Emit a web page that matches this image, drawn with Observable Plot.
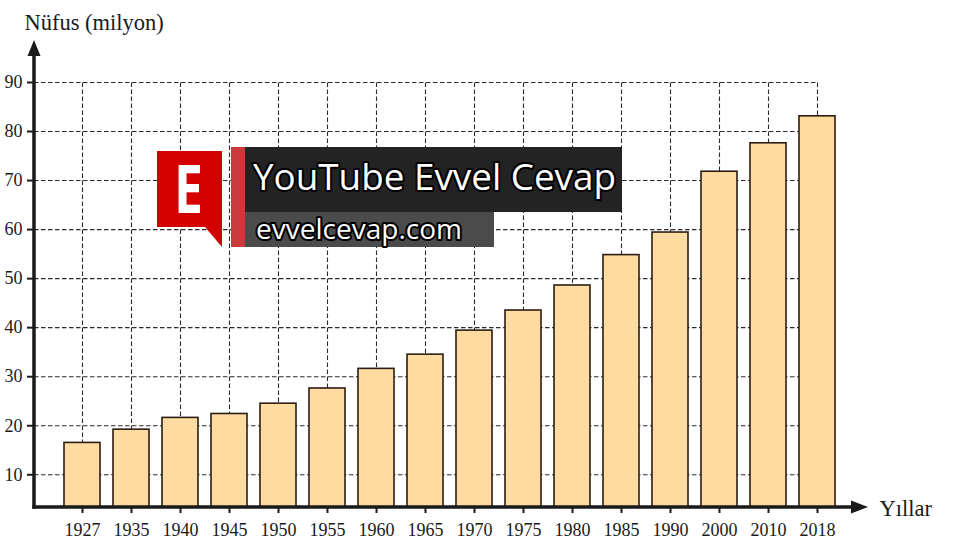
<!DOCTYPE html>
<html>
<head>
<meta charset="utf-8">
<script src="https://cdn.jsdelivr.net/npm/d3@7"></script>
<script src="https://cdn.jsdelivr.net/npm/@observablehq/plot@0.6"></script>
<style>
  html, body { margin: 0; padding: 0; background: #fff; }
  #chart svg { display: block; }
</style>
</head>
<body>
<div id="chart"></div>
<script>
// ---- data ----
const years = ["1927", "1935", "1940", "1945", "1950", "1955", "1960", "1965",
               "1970", "1975", "1980", "1985", "1990", "2000", "2010", "2018"];
const population = [16.5, 19.2, 21.6, 22.4, 24.5, 27.6, 31.6, 34.5,
                    39.4, 43.5, 48.6, 54.8, 59.4, 71.8, 77.6, 83.1];
const yTicks = [10, 20, 30, 40, 50, 60, 70, 80, 90];
const yTitle = "Nüfus (milyon)";
const xTitle = "Yıllar";
const brandTitle = "YouTube Evvel Cevap";
const brandUrl = "evvelcevap.com";
const brandLetter = "E";

const rows = years.map((year, i) => ({year, population: population[i]}));

// ---- styling constants ----
const INK = "#1a1a1a";
const GRID = "#2a2a2a";
const BAR_FILL = "#fedba1";
const BAR_STROKE = "#2b1d12";
const Y_MIN = 3.33, Y_MAX = 98.56, GRID_TOP = 90;

// axis lines with arrowheads
function axesArrows(index, scales, values, dims) {
  const {width, height, marginLeft, marginRight, marginTop, marginBottom} = dims;
  const left = marginLeft, right = width - marginRight, top = marginTop, bottom = height - marginBottom;
  const g = d3.create("svg:g");
  g.append("line").attr("x1", left).attr("x2", left).attr("y1", bottom + 1.75).attr("y2", top + 12)
    .attr("stroke", INK).attr("stroke-width", 3.5);
  g.append("path").attr("d", `M${left},${top}L${left - 6.5},${top + 16}L${left + 6.5},${top + 16}Z`).attr("fill", INK);
  g.append("line").attr("x1", left - 1.75).attr("x2", right - 8).attr("y1", bottom).attr("y2", bottom)
    .attr("stroke", INK).attr("stroke-width", 3.5);
  g.append("path").attr("d", `M${right + 3},${bottom}L${right - 14},${bottom - 6.5}L${right - 14},${bottom + 6.5}Z`).attr("fill", INK);
  return g.node();
}

// watermark overlay
function watermark() {
  const g = d3.create("svg:g").attr("text-anchor", "start");
  g.append("path").attr("d", "M157,151H222V247L205,227H157Z").attr("fill", "#d40000");
  g.append("text").attr("x", 174).attr("y", 212.7).text(brandLetter).attr("text-anchor", "start")
    .attr("fill", "#fff").attr("font-family", "'Open Sans', sans-serif").attr("font-weight", 700)
    .attr("font-size", 66).attr("textLength", 29).attr("lengthAdjust", "spacingAndGlyphs");
  g.append("rect").attr("x", 231).attr("y", 147).attr("width", 14).attr("height", 100).attr("fill", "#c83a3c");
  g.append("rect").attr("x", 245).attr("y", 147).attr("width", 377).attr("height", 65).attr("fill", "#232323");
  g.append("rect").attr("x", 245).attr("y", 212).attr("width", 249).attr("height", 35).attr("fill", "#4b4b4b");
  const common = t => t.attr("text-anchor", "start").attr("fill", "#fff").attr("stroke", "#000").attr("stroke-width", 4)
    .attr("paint-order", "stroke").attr("stroke-linejoin", "round")
    .attr("font-family", "'Open Sans', sans-serif").attr("lengthAdjust", "spacingAndGlyphs");
  g.append("text").attr("x", 253).attr("y", 190).text(brandTitle).call(common)
    .attr("font-size", 37).attr("textLength", 363);
  g.append("text").attr("x", 256).attr("y", 239).text(brandUrl).call(common)
    .attr("font-size", 27).attr("textLength", 206);
  return g.node();
}

const chart = Plot.plot({
  width: 960,
  height: 542,
  marginLeft: 34,
  marginRight: 95,
  marginTop: 40,
  marginBottom: 35,
  style: {fontFamily: "'Liberation Serif', 'Times New Roman', serif", fontSize: "18px", color: INK, background: "#fff"},
  x: {type: "band", domain: years, paddingInner: 0.265, paddingOuter: 0.612, axis: null},
  y: {domain: [Y_MIN, Y_MAX], axis: null},
  marks: [
    Plot.ruleY(yTicks, {y: d => d, insetRight: 49, stroke: GRID, strokeWidth: 1.1, strokeDasharray: "4.5,2.5"}),
    Plot.ruleX(years, {x: d => d, y1: Y_MIN, y2: GRID_TOP, stroke: GRID, strokeWidth: 1.1, strokeDasharray: "4.5,2.5"}),
    Plot.barY(rows, {x: "year", y1: Y_MIN, y2: "population", fill: BAR_FILL, stroke: BAR_STROKE, strokeWidth: 1.6}),
    Plot.axisY(yTicks, {tickSize: 7, tickPadding: 5, strokeWidth: 2, stroke: INK, fontSize: 18, label: null}),
    Plot.axisX({tickSize: 6, tickPadding: 10, strokeWidth: 2, stroke: INK, fontSize: 18, label: null}),
    axesArrows,
    Plot.text([yTitle], {text: d => d, frameAnchor: "top-left", textAnchor: "start", lineAnchor: "middle",
      dx: -10, dy: -17.7, fontSize: 22.5, fill: INK}),
    Plot.text([xTitle], {text: d => d, frameAnchor: "bottom-right", textAnchor: "start", lineAnchor: "middle",
      dx: 14, dy: 1, fontSize: 22.5, fill: INK}),
    watermark
  ]
});
document.getElementById("chart").appendChild(chart);
</script>
</body>
</html>
